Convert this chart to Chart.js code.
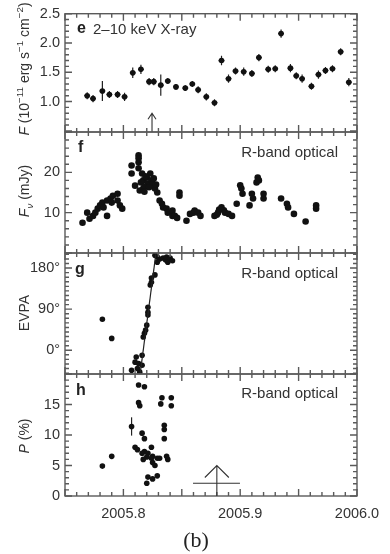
<!DOCTYPE html>
<html>
<head>
<meta charset="utf-8">
<script src="https://cdn.jsdelivr.net/npm/chart.js@4.4.1/dist/chart.umd.min.js"></script>
<style>
  html, body { margin: 0; padding: 0; background: #fff; }
  #wrap { position: relative; width: 390px; height: 554px; overflow: hidden; font-family: "Liberation Sans", Arial, sans-serif; color: #333; }
  #wrap canvas { position: absolute; left: 0; top: 0; }
  .lbl { position: absolute; white-space: nowrap; line-height: 1; transform: translateY(-50%); font-size: 15px; }
  .tag { font-weight: bold; font-size: 16px; color: #222; }
  .ytitle { position: absolute; white-space: nowrap; line-height: 1; font-size: 14px; transform: translate(-50%, -50%) rotate(-90deg); }
  .ytitle sup, .ytitle sub { font-size: 70%; line-height: 0; }
  #cap { position: absolute; left: 196px; top: 540px; transform: translate(-50%, -50%); font-family: "Liberation Serif", serif; font-size: 22px; color: #222; line-height: 1; }
</style>
</head>
<body>
<div id="wrap">
  <canvas id="chartE" width="390" height="554"></canvas>
  <canvas id="chartF" width="390" height="554"></canvas>
  <canvas id="chartG" width="390" height="554"></canvas>
  <canvas id="chartH" width="390" height="554"></canvas>

  <!-- panel labels -->
  <div class="lbl tag" style="left:77px; top:28px;">e</div>
  <div class="lbl" style="left:93px; top:28px;">2–10 keV X-ray</div>
  <div class="lbl tag" style="left:78px; top:147px;">f</div>
  <div class="lbl" style="right:52px; top:151px;">R-band optical</div>
  <div class="lbl tag" style="left:75px; top:269px;">g</div>
  <div class="lbl" style="right:52px; top:272px;">R-band optical</div>
  <div class="lbl tag" style="left:76px; top:390px;">h</div>
  <div class="lbl" style="right:52px; top:392px;">R-band optical</div>

  <!-- y axis titles -->
  <div class="ytitle" style="left:24px; top:69px;"><i>F</i> (10<sup>−11</sup> erg s<sup>−1</sup> cm<sup>−2</sup>)</div>
  <div class="ytitle" style="left:24px; top:191px;"><i>F</i><sub><i>ν</i></sub> (mJy)</div>
  <div class="ytitle" style="left:24px; top:313px;">EVPA</div>
  <div class="ytitle" style="left:24px; top:436px;"><i>P</i> (%)</div>

  <div id="cap">(b)</div>
</div>

<script>
// X-ray flux, panel e
const xrayDate = [2005.769, 2005.774, 2005.782, 2005.788, 2005.795, 2005.801, 2005.808, 2005.815, 2005.822, 2005.826,
                  2005.832, 2005.838, 2005.845, 2005.853, 2005.859, 2005.864, 2005.871, 2005.878, 2005.884, 2005.890,
                  2005.896, 2005.903, 2005.910, 2005.916, 2005.924, 2005.930, 2005.935, 2005.943, 2005.948, 2005.953,
                  2005.961, 2005.967, 2005.973, 2005.979, 2005.986, 2005.993];
const xrayFlux = [1.10, 1.05, 1.18, 1.12, 1.12, 1.08, 1.49, 1.55, 1.34, 1.34,
                  1.28, 1.35, 1.25, 1.23, 1.30, 1.20, 1.08, 0.98, 1.70, 1.39,
                  1.52, 1.51, 1.48, 1.75, 1.55, 1.56, 2.16, 1.57, 1.44, 1.39,
                  1.26, 1.46, 1.53, 1.56, 1.85, 1.33];
const xrayErr  = [0.06, 0.06, 0.17, 0.06, 0.06, 0.07, 0.09, 0.08, 0.06, 0.06,
                  0.18, 0.05, 0.05, 0.05, 0.05, 0.06, 0.06, 0.06, 0.08, 0.07,
                  0.06, 0.07, 0.06, 0.06, 0.06, 0.06, 0.07, 0.07, 0.06, 0.07,
                  0.06, 0.07, 0.06, 0.06, 0.06, 0.07];
const xrayDateErr = 0.0025;

// R-band flux density, panel f
const fluxDate = [2005.765, 2005.769, 2005.771, 2005.774, 2005.776, 2005.778, 2005.780, 2005.782, 2005.783, 2005.786,
                  2005.786, 2005.789, 2005.790, 2005.791, 2005.795, 2005.795, 2005.797, 2005.799, 2005.807, 2005.807,
                  2005.813, 2005.813, 2005.813, 2005.813, 2005.810, 2005.814, 2005.816, 2005.817, 2005.817, 2005.820,
                  2005.821, 2005.823, 2005.824, 2005.825, 2005.827, 2005.829, 2005.815, 2005.818, 2005.819, 2005.822,
                  2005.826, 2005.828, 2005.818, 2005.831, 2005.833, 2005.834, 2005.837, 2005.838, 2005.842, 2005.842,
                  2005.844, 2005.846, 2005.848, 2005.848, 2005.854, 2005.857, 2005.860, 2005.861, 2005.864, 2005.866,
                  2005.878, 2005.880, 2005.881, 2005.882, 2005.884, 2005.886, 2005.887, 2005.890, 2005.893, 2005.897,
                  2005.900, 2005.901, 2005.902, 2005.908, 2005.910, 2005.911, 2005.914, 2005.915, 2005.916, 2005.920,
                  2005.920, 2005.935, 2005.940, 2005.941, 2005.946, 2005.956, 2005.965, 2005.965];
const fluxMJy  = [7.5, 10.0, 8.5, 9.2, 10.0, 11.0, 11.8, 12.5, 11.3, 9.2,
                  13.0, 13.5, 12.5, 14.2, 14.7, 13.0, 11.8, 11.0, 21.7, 19.7,
                  24.2, 23.5, 22.5, 21.0, 16.7, 15.5, 19.7, 18.0, 16.0, 18.7,
                  17.2, 19.7, 18.0, 17.2, 16.0, 15.0, 17.5, 16.5, 19.0, 16.3,
                  18.5, 17.0, 15.2, 13.0, 12.2, 11.3, 11.0, 10.0, 9.2, 10.5,
                  9.2, 8.7, 15.0, 14.2, 8.0, 9.7, 10.0, 10.5, 10.0, 9.2,
                  9.2, 9.5, 10.0, 10.8, 11.3, 10.6, 10.0, 9.7, 9.2, 12.2,
                  16.8, 16.0, 14.7, 11.8, 14.7, 13.5, 17.5, 18.7, 18.0, 14.7,
                  13.5, 13.5, 12.2, 11.3, 9.7, 7.8, 11.8, 11.0];

// electric vector position angle, panel g
const evpaDate = [2005.782, 2005.790, 2005.807, 2005.810, 2005.811, 2005.813, 2005.812, 2005.814, 2005.816, 2005.816,
                  2005.817, 2005.818, 2005.819, 2005.820, 2005.821, 2005.821, 2005.821, 2005.823, 2005.824, 2005.824,
                  2005.827, 2005.827, 2005.829, 2005.829, 2005.831, 2005.834, 2005.836, 2005.837, 2005.838, 2005.840,
                  2005.842];
const evpaDeg  = [68, 26, -44, -26, -15, -29, -40, -48, -33, -11,
                  29, 37, 44, 55, 77, 83, 94, 143, 149, 158,
                  165, 208, 204, 193, 200, 202, 198, 204, 193, 202,
                  196];
const evpaFitDate = [2005.8143, 2005.8279];
const evpaFitDeg  = [-52, 213];

// polarisation degree, panel h
const polDate = [2005.782, 2005.790, 2005.807, 2005.813, 2005.818, 2005.813, 2005.814, 2005.833, 2005.841, 2005.832,
                 2005.841, 2005.835, 2005.835, 2005.816, 2005.818, 2005.835, 2005.810, 2005.812, 2005.824, 2005.818,
                 2005.821, 2005.816, 2005.825, 2005.820, 2005.824, 2005.829, 2005.831, 2005.837, 2005.838, 2005.817,
                 2005.825, 2005.827, 2005.821, 2005.829, 2005.825, 2005.820];
const polPct  = [4.9, 6.5, 11.4, 18.2, 17.9, 15.3, 14.8, 16.1, 16.1, 15.1,
                 14.8, 11.6, 10.9, 10.3, 9.4, 9.4, 8.0, 7.6, 8.0, 7.3,
                 7.0, 7.0, 6.5, 6.4, 6.2, 6.2, 6.2, 6.5, 6.0, 6.0,
                 5.5, 5.0, 3.1, 3.3, 2.8, 2.1];
const polErr  = [0, 0, 1.5, 0, 0, 0, 0, 0, 0, 0,
                 0, 0, 0, 0, 0, 0, 0, 0, 0, 0,
                 0, 0, 0, 0, 0, 0, 0, 0, 0, 0,
                 0, 0, 0, 0, 0, 0];

// axes
const xMin = 2005.75, xMax = 2006.0;
const xTickLabels = [2005.8, 2005.9, 2006.0];
const yTicksE = [1.0, 1.5, 2.0, 2.5];
const yTicksF = [10, 20];
const yTicksG = [0, 90, 180];
const yTicksH = [0, 5, 10, 15];

// arrows marking epochs
const arrowE = { x: 2005.8245, from: 0.48, to: 0.80 };
const arrowH = { x: 2005.880, from: 0, to: 5.0, barFrom: 2005.8596, barTo: 2005.8998, barY: 2.1 };

const FONT = '"Liberation Sans", Arial, sans-serif';
const INK = '#333';
const FRAME = '#5a5a5a';

// frame, ticks on all four sides, error bars and arrows
function makeDeco(panel) {
  return {
    id: 'deco',
    beforeDatasetsDraw(chart) {
      const { ctx, scales: { x, y } } = chart;
      ctx.save();
      ctx.strokeStyle = '#222';
      ctx.lineWidth = 1.2;
      chart.data.datasets.forEach(ds => {
        if (!ds.errY) return;
        ctx.beginPath();
        ds.data.forEach((p, i) => {
          const px = x.getPixelForValue(p.x);
          const e = ds.errY[i];
          if (e > 0) {
            ctx.moveTo(px, y.getPixelForValue(p.y - e));
            ctx.lineTo(px, y.getPixelForValue(p.y + e));
          }
          if (ds.errX) {
            const py = y.getPixelForValue(p.y);
            ctx.moveTo(x.getPixelForValue(p.x - ds.errX), py);
            ctx.lineTo(x.getPixelForValue(p.x + ds.errX), py);
          }
        });
        ctx.stroke();
      });
      ctx.restore();
    },
    afterDraw(chart) {
      const { ctx, chartArea: a, scales: { x, y } } = chart;
      ctx.save();
      ctx.strokeStyle = FRAME;
      ctx.lineWidth = 1.4;
      ctx.strokeRect(a.left, a.top, a.right - a.left, a.bottom - a.top);
      ctx.beginPath();
      for (let i = 0; i <= 25; i++) {
        const px = x.getPixelForValue(xMin + i * 0.01);
        const len = i % 5 === 0 ? 7 : 4;
        ctx.moveTo(px, a.top); ctx.lineTo(px, a.top + len);
        ctx.moveTo(px, a.bottom); ctx.lineTo(px, a.bottom - len);
      }
      const k0 = Math.ceil(panel.min / panel.minor - 1e-6);
      const k1 = Math.floor(panel.max / panel.minor + 1e-6);
      const ratio = Math.round(panel.major / panel.minor);
      for (let k = k0; k <= k1; k++) {
        const py = y.getPixelForValue(k * panel.minor);
        const len = ((k % ratio) + ratio) % ratio === 0 ? 7 : 4;
        ctx.moveTo(a.left, py); ctx.lineTo(a.left + len, py);
        ctx.moveTo(a.right, py); ctx.lineTo(a.right - len, py);
      }
      ctx.stroke();

      if (panel.arrow) {
        const ar = panel.arrow;
        const px = x.getPixelForValue(ar.x);
        const pTop = y.getPixelForValue(ar.to);
        ctx.strokeStyle = '#333';
        ctx.lineWidth = 1.1;
        ctx.beginPath();
        ctx.moveTo(px, y.getPixelForValue(ar.from));
        ctx.lineTo(px, pTop);
        ctx.moveTo(px - panel.headW, pTop + panel.headH);
        ctx.lineTo(px, pTop);
        ctx.lineTo(px + panel.headW, pTop + panel.headH);
        if (ar.barFrom !== undefined) {
          const py = y.getPixelForValue(ar.barY);
          ctx.moveTo(x.getPixelForValue(ar.barFrom), py);
          ctx.lineTo(x.getPixelForValue(ar.barTo), py);
        }
        ctx.stroke();
      }
      ctx.restore();
    }
  };
}

function makePanel(id, panel, datasets, showX) {
  const xHeight = showX ? 30 : 0;
  return new Chart(document.getElementById(id), {
    type: 'scatter',
    data: { datasets },
    options: {
      responsive: false,
      animation: false,
      devicePixelRatio: 1,
      layout: { padding: { left: 0, right: 33, top: panel.top, bottom: 554 - panel.bottom - xHeight } },
      plugins: { legend: { display: false }, tooltip: { enabled: false } },
      scales: {
        x: {
          type: 'linear', min: xMin, max: xMax, display: showX,
          grid: { display: false, drawTicks: false }, border: { display: false },
          afterBuildTicks: s => { s.ticks = xTickLabels.map(v => ({ value: v })); },
          afterFit: s => { s.height = xHeight; },
          ticks: { color: INK, font: { size: 14.5, family: FONT }, padding: 9, maxRotation: 0, autoSkip: false,
                   callback: v => v.toFixed(1) }
        },
        y: {
          type: 'linear', min: panel.min, max: panel.max,
          grid: { display: false, drawTicks: false }, border: { display: false },
          afterBuildTicks: s => { s.ticks = panel.labels.map(v => ({ value: v })); },
          afterFit: s => { s.width = 65; },
          ticks: { color: INK, font: { size: 14.5, family: FONT }, padding: 5, autoSkip: false,
                   callback: panel.fmt }
        }
      }
    },
    plugins: [makeDeco(panel)]
  });
}

const pts = (xs, ys) => xs.map((v, i) => ({ x: v, y: ys[i] }));
const dot = { pointBackgroundColor: '#111', pointBorderWidth: 0, pointHoverRadius: 0 };

makePanel('chartE',
  { top: 9, bottom: 132, min: 0.48, max: 2.5, minor: 0.1, major: 0.5, labels: yTicksE,
    fmt: v => v.toFixed(1), arrow: arrowE, headW: 4, headH: 6 },
  [{ data: pts(xrayDate, xrayFlux), errY: xrayErr, errX: xrayDateErr, pointRadius: 2.8, ...dot }],
  false);

makePanel('chartF',
  { top: 132, bottom: 253, min: 0, max: 30, minor: 2, major: 10, labels: yTicksF, fmt: v => String(v) },
  [{ data: pts(fluxDate, fluxMJy), pointRadius: 3.3, ...dot }],
  false);

makePanel('chartG',
  { top: 253, bottom: 374, min: -52, max: 213, minor: 10, major: 90, labels: yTicksG, fmt: v => v + '°' },
  [{ data: pts(evpaFitDate, evpaFitDeg), showLine: true, pointRadius: 0, borderColor: '#222', borderWidth: 1.2 },
   { data: pts(evpaDate, evpaDeg), pointRadius: 2.8, ...dot }],
  false);

makePanel('chartH',
  { top: 374, bottom: 496, min: 0, max: 20, minor: 1, major: 5, labels: yTicksH,
    fmt: v => String(v), arrow: arrowH, headW: 12, headH: 12 },
  [{ data: pts(polDate, polPct), errY: polErr, pointRadius: 2.8, ...dot }],
  true);
</script>
</body>
</html>
